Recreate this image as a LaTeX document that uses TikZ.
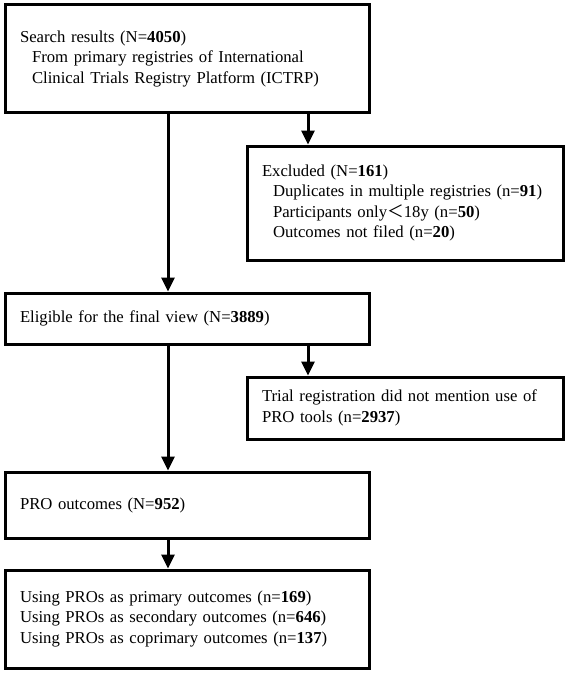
\documentclass[tikz,border=0pt]{standalone}
\usepackage{fontspec}
\setmainfont{Liberation Serif}
\newfontfamily\cjk{Noto Sans CJK SC}
\usetikzlibrary{arrows.meta}
\begin{document}
\begin{tikzpicture}[x=1pt,y=-1pt,
  box/.style={draw, line width=3pt, rectangle, inner xsep=15pt, inner ysep=0pt, align=left,
    font=\fontsize{16.7}{20.5}\selectfont},
  arr/.style={line width=3pt, -{Triangle[width=13pt,length=14pt]}}]
\useasboundingbox (0,0) rectangle (567,674);
\node[box, minimum width=364pt, minimum height=108pt, text width=334pt] (b1) at (187,59)
  {Search results (N=\textbf{4050})\\
   \hspace*{12pt}From primary registries of International\\
   \hspace*{12pt}Clinical Trials Registry Platform (ICTRP)};
\node[box, minimum width=316pt, minimum height=114pt, text width=286pt] (excl) at (405,203)
  {Excluded (N=\textbf{161})\\
   \hspace*{11pt}Duplicates in multiple registries (n=\textbf{91})\\
   \hspace*{11pt}Participants only{\cjk ＜}18y (n=\textbf{50})\\
   \hspace*{11pt}Outcomes not filed (n=\textbf{20})};
\node[box, minimum width=364pt, minimum height=51pt, text width=334pt] (elig) at (187,318.5)
  {Eligible for the final view (N=\textbf{3889})};
\node[box, minimum width=316pt, minimum height=62pt, text width=286pt] (trial) at (405,408)
  {Trial registration did not mention use of\\
   PRO tools (n=\textbf{2937})};
\node[box, minimum width=364pt, minimum height=66pt, text width=334pt] (pro) at (187,505)
  {PRO outcomes (N=\textbf{952})};
\node[box, minimum width=364pt, minimum height=98pt, text width=334pt] (fin) at (187,619)
  {Using PROs as primary outcomes (n=\textbf{169})\\
   Using PROs as secondary outcomes (n=\textbf{646})\\
   Using PROs as coprimary outcomes (n=\textbf{137})};
\coordinate (xm) at (168,0);
\coordinate (xr) at (308,0);
\draw[arr] (xm |- b1.south) -- (xm |- elig.north);
\draw[arr] (xr |- b1.south) -- (xr |- excl.north);
\draw[arr] (xr |- elig.south) -- (xr |- trial.north);
\draw[arr] (xm |- elig.south) -- (xm |- pro.north);
\draw[arr] (xm |- pro.south) -- (xm |- fin.north);
\end{tikzpicture}
\end{document}
